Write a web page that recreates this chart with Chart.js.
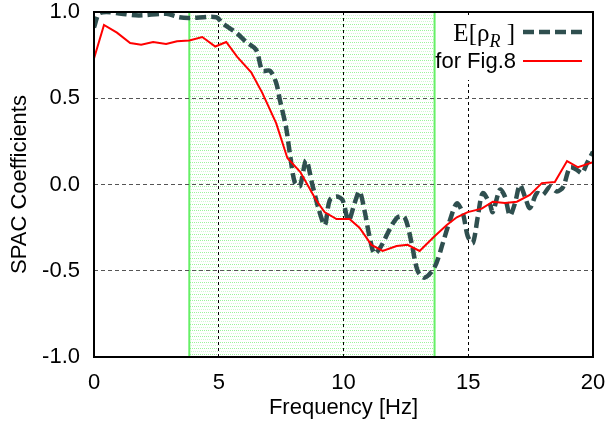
<!DOCTYPE html>
<html>
<head>
<meta charset="utf-8">
<script src="https://cdn.jsdelivr.net/npm/chart.js@4"></script>
<style>
  html, body { margin: 0; padding: 0; background: #fff; }
  #wrap { width: 607px; height: 425px; }
</style>
</head>
<body>
<div id="wrap"><canvas id="spacChart"></canvas></div>
<script>
// E[rho_R] curve
const rhoFreq = [0, 0.2, 0.5, 1.1, 1.8, 2.9, 3.4, 3.8, 4.9, 5.15, 5.7, 6.1, 6.5, 6.75, 7.05, 7.3, 7.45, 7.7, 7.85, 8.05, 8.25, 8.5, 8.75, 9.0, 9.25, 9.45, 9.72, 9.96, 10.2, 10.44, 10.64, 10.84, 11.04, 11.24, 11.5, 11.85, 12.17, 12.45, 12.73, 12.97, 13.25, 13.65, 13.98, 14.26, 14.54, 14.78, 14.98, 15.18, 15.38, 15.58, 15.86, 15.98, 16.27, 16.47, 16.67, 16.87, 17.07, 17.27, 17.47, 17.75, 17.99, 18.27, 18.55, 18.8, 19.08, 19.36, 19.56, 19.76, 20];
const rhoVals = [0.91, 0.99, 1.0, 0.99, 0.98, 0.99, 0.97, 0.965, 0.97, 0.935, 0.88, 0.826, 0.78, 0.66, 0.66, 0.59, 0.49, 0.33, 0.18, 0.01, -0.01, 0.14, 0.0, -0.14, -0.235, -0.09, -0.07, -0.09, -0.21, -0.11, -0.04, -0.15, -0.30, -0.40, -0.36, -0.26, -0.19, -0.19, -0.34, -0.50, -0.54, -0.48, -0.34, -0.21, -0.11, -0.165, -0.30, -0.34, -0.19, -0.05, -0.11, -0.16, -0.03, -0.07, -0.18, -0.11, -0.003, -0.07, -0.137, -0.05, -0.06, -0.014, -0.04, -0.015, 0.10, 0.084, 0.066, 0.124, 0.19];

// curve for Fig.8
const fig8Freq = [0, 0.4, 0.92, 1.45, 1.89, 2.37, 2.89, 3.33, 3.82, 4.34, 4.86, 5.3, 5.74, 6.3, 6.75, 7.3, 7.75, 8.27, 8.9, 9.24, 9.72, 10.24, 10.64, 11.12, 11.57, 12.13, 12.57, 13.05, 13.65, 14.14, 14.54, 14.98, 15.54, 15.98, 16.47, 16.95, 17.47, 17.95, 18.47, 18.96, 19.4, 20];
const fig8Vals = [0.73, 0.925, 0.88, 0.82, 0.81, 0.826, 0.815, 0.83, 0.835, 0.855, 0.80, 0.826, 0.74, 0.65, 0.53, 0.356, 0.154, 0.072, -0.09, -0.16, -0.2, -0.2, -0.25, -0.35, -0.385, -0.357, -0.35, -0.385, -0.30, -0.235, -0.19, -0.16, -0.14, -0.10, -0.107, -0.10, -0.06, 0.008, 0.014, 0.136, 0.1, 0.13];

// shaded band (Hz)
const bandRange = [3.82, 13.65];

const xTicks = [0, 5, 10, 15, 20];
const yTicks = [-1.0, -0.5, 0.0, 0.5, 1.0];

const sansFont = '"Liberation Sans", Arial, sans-serif';
const serifFont = '"Liberation Serif", "Times New Roman", serif';

function toPoints(xs, ys) {
    return xs.map((x, i) => ({ x: x, y: ys[i] }));
}

// dotted green fill like the original
function makeBandPattern() {
    const c = document.createElement('canvas');
    c.width = 4;
    c.height = 6;
    const g = c.getContext('2d');
    g.fillStyle = '#ffffff';
    g.fillRect(0, 0, 4, 6);
    g.fillStyle = '#9cf59c';
    g.fillRect(0, 0, 1, 1);
    g.fillRect(2, 0, 1, 1);
    g.fillStyle = '#cdfacd';
    g.fillRect(1, 3, 1, 1);
    g.fillRect(3, 3, 1, 1);
    return g.createPattern(c, 'repeat');
}

const bandPlugin = {
    id: 'band',
    beforeDraw(chart) {
        const { ctx, chartArea, scales } = chart;
        const x0 = scales.x.getPixelForValue(bandRange[0]);
        const x1 = scales.x.getPixelForValue(bandRange[1]);
        const top = chartArea.top, bottom = chartArea.bottom;
        ctx.save();
        ctx.fillStyle = makeBandPattern();
        ctx.fillRect(x0, top, x1 - x0, bottom - top);
        ctx.strokeStyle = '#66f066';
        ctx.lineWidth = 2;
        ctx.strokeRect(x0, top, x1 - x0, bottom - top);
        ctx.restore();
    }
};

const legendPlugin = {
    id: 'customLegend',
    afterDatasetsDraw(chart) {
        const { ctx, chartArea } = chart;
        const right = chartArea.right;
        ctx.save();
        // white box hiding the grid behind the key
        ctx.fillStyle = '#ffffff';
        ctx.fillRect(right - 155, chartArea.top + 4, 153, 64);

        const sampleL = right - 70, sampleR = right - 11;
        const textR = right - 78;

        // first entry: E[rho_R ]
        ctx.fillStyle = '#000';
        ctx.textBaseline = 'alphabetic';
        ctx.textAlign = 'right';
        ctx.font = '25px ' + serifFont;
        const base1 = chartArea.top + 29;
        ctx.fillText(']', textR, base1);
        const wClose = ctx.measureText(' ]').width;
        ctx.font = 'italic 18px ' + serifFont;
        const wSub = ctx.measureText('R').width;
        ctx.fillText('R', textR - wClose, base1 + 6);
        ctx.font = '25px ' + serifFont;
        ctx.fillText('E[\u03c1', textR - wClose - wSub, base1);

        ctx.lineWidth = 4.5;
        ctx.strokeStyle = '#2f4f4f';
        ctx.setLineDash([11, 5]);
        ctx.beginPath();
        ctx.moveTo(sampleL, chartArea.top + 20);
        ctx.lineTo(sampleR, chartArea.top + 20);
        ctx.stroke();

        // second entry
        ctx.setLineDash([]);
        ctx.font = '22px ' + sansFont;
        ctx.textBaseline = 'middle';
        ctx.fillText('for Fig.8', textR + 1, chartArea.top + 50);
        ctx.lineWidth = 2;
        ctx.strokeStyle = '#ff0000';
        ctx.beginPath();
        ctx.moveTo(sampleL, chartArea.top + 49);
        ctx.lineTo(sampleR, chartArea.top + 49);
        ctx.stroke();
        ctx.restore();
    },
    afterDraw(chart) {
        const { ctx, chartArea } = chart;
        ctx.save();
        ctx.strokeStyle = '#000';
        ctx.lineWidth = 2;
        ctx.strokeRect(chartArea.left, chartArea.top,
            chartArea.right - chartArea.left, chartArea.bottom - chartArea.top);
        ctx.restore();
    }
};

const ctx = document.getElementById('spacChart').getContext('2d');
new Chart(ctx, {
    type: 'line',
    data: {
        datasets: [
            {
                label: 'E[\u03c1R ]',
                data: toPoints(rhoFreq, rhoVals),
                borderColor: '#2f4f4f',
                borderWidth: 4.5,
                borderDash: [11, 5],
                pointRadius: 0,
                tension: 0.3,
                fill: false,
                order: 2
            },
            {
                label: 'for Fig.8',
                data: toPoints(fig8Freq, fig8Vals),
                borderColor: '#ff0000',
                borderWidth: 2,
                pointRadius: 0,
                tension: 0,
                fill: false,
                order: 1
            }
        ]
    },
    options: {
        responsive: true,
        maintainAspectRatio: false,
        animation: false,
        layout: { padding: { left: 7, right: 14, top: 12, bottom: 4 } },
        plugins: {
            legend: { display: false },
            tooltip: { enabled: false }
        },
        scales: {
            x: {
                type: 'linear',
                min: 0,
                max: 20,
                afterBuildTicks: s => { s.ticks = xTicks.map(v => ({ value: v })); },
                afterFit: s => {
                    s.height = 64;
                    s.paddingLeft = 0;
                    s.paddingRight = 0;
                },
                ticks: {
                    color: '#000',
                    font: { family: sansFont, size: 22 },
                    padding: 13,
                    maxRotation: 0
                },
                grid: {
                    drawTicks: false,
                    color: ctx => (ctx.tick && (ctx.tick.value === 0 || ctx.tick.value === 20)) ? 'rgba(0,0,0,0)' : '#000',
                    lineWidth: 1
                },
                border: { display: false, dash: [3, 3] },
                title: {
                    display: true,
                    text: 'Frequency [Hz]',
                    color: '#000',
                    font: { family: sansFont, size: 22 },
                    padding: { top: 0, bottom: 0 }
                }
            },
            y: {
                min: -1,
                max: 1,
                afterBuildTicks: s => { s.ticks = yTicks.map(v => ({ value: v })); },
                afterFit: s => {
                    s.width = 87;
                    s.paddingTop = 0;
                    s.paddingBottom = 0;
                },
                ticks: {
                    color: '#000',
                    font: { family: sansFont, size: 22 },
                    padding: 14,
                    callback: v => v.toFixed(1)
                },
                grid: {
                    drawTicks: false,
                    color: ctx => (ctx.tick && Math.abs(ctx.tick.value) === 1) ? 'rgba(0,0,0,0)' : '#555',
                    lineWidth: 1
                },
                border: { display: false, dash: [4, 3] },
                title: {
                    display: true,
                    text: 'SPAC Coefficients',
                    color: '#000',
                    font: { family: sansFont, size: 22 },
                    padding: { top: 0, bottom: 10 }
                }
            }
        }
    },
    plugins: [bandPlugin, legendPlugin]
});
</script>
</body>
</html>
